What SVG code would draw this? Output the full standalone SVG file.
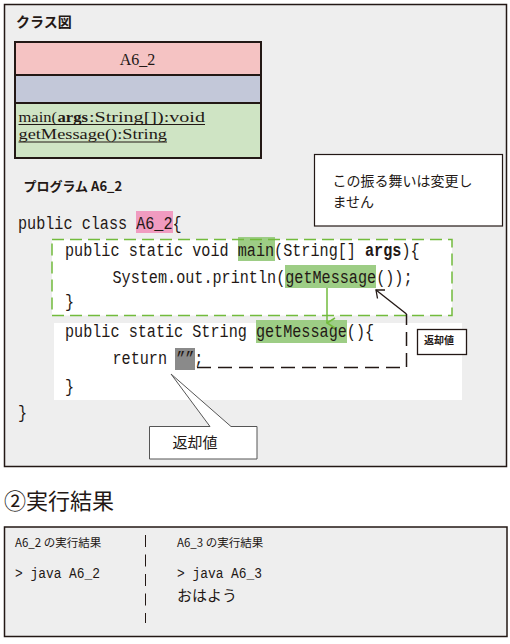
<svg xmlns="http://www.w3.org/2000/svg" width="510" height="644" viewBox="0 0 510 644">
<style>
.jp{font-family:"Noto Sans CJK JP","Noto Sans",sans-serif;fill:#231815}
.code{font-family:"Liberation Mono","DejaVu Sans Mono",monospace;font-size:18px;fill:#231815}
.code15{font-family:"Liberation Mono","DejaVu Sans Mono",monospace;font-size:15px;fill:#231815}
.serif{font-family:"Liberation Serif",serif;fill:#231815}
.frame{fill:#eeeeee;stroke:#231815;stroke-width:1.5}
.gdash{fill:none;stroke:#72bb3c;stroke-width:1.5;stroke-dasharray:12 6}
.kdash{fill:none;stroke:#231815;stroke-width:1.5;stroke-dasharray:14 7}
.hlg{fill:#9dcd85}
</style>
<defs>
<marker id="gv" viewBox="0 0 12 10" refX="6" refY="9" markerWidth="12" markerHeight="10" markerUnits="userSpaceOnUse" orient="auto-start-reverse">
<path d="M1,1 L6,9 L11,1" fill="none" stroke="#72bb3c" stroke-width="1.5"/>
</marker>
</defs>

<g id="frame-top">
<rect class="frame" x="4.5" y="4.5" width="502" height="462"/>
<text class="jp" x="16" y="27" font-size="14" font-weight="bold">クラス図</text>
</g>

<g id="class-box">
<rect x="15" y="42" width="246" height="33" fill="#f5c3c3"/>
<rect x="15" y="75" width="246" height="28" fill="#c3c8d9"/>
<rect x="15" y="103" width="246" height="55" fill="#cfe4c4"/>
<rect x="15" y="42" width="246" height="116" fill="none" stroke="#231815" stroke-width="2"/>
<line x1="15" y1="75" x2="261" y2="75" stroke="#231815" stroke-width="2"/>
<line x1="15" y1="103" x2="261" y2="103" stroke="#231815" stroke-width="2"/>
<text class="serif" x="137.5" y="65" font-size="16" text-anchor="middle">A6_2</text>
<text class="serif" x="18.5" y="121.5" font-size="14" textLength="38.5" lengthAdjust="spacingAndGlyphs">main(</text>
<text class="serif" x="57.5" y="121.5" font-size="14" font-weight="bold" textLength="30.5" lengthAdjust="spacingAndGlyphs">args</text>
<text class="serif" x="89" y="121.5" font-size="14" textLength="116" lengthAdjust="spacingAndGlyphs">:String[]):void</text>
<text class="serif" x="18.5" y="139" font-size="14" textLength="148.5" lengthAdjust="spacingAndGlyphs">getMessage():String</text>
<line x1="18.5" y1="124.5" x2="205" y2="124.5" stroke="#231815" stroke-width="1"/>
<line x1="18.5" y1="142" x2="167" y2="142" stroke="#231815" stroke-width="1"/>
</g>

<g id="note-box">
<rect x="314.5" y="154.5" width="188" height="71.5" fill="#ffffff" stroke="#231815" stroke-width="1.2"/>
<text class="jp" x="332.5" y="186" font-size="14">この振る舞いは変更し</text>
<text class="jp" x="332.5" y="207" font-size="14">ません</text>
</g>

<g id="program">
<text class="jp" x="23.5" y="191" font-size="13" font-weight="bold">プログラム A6_2</text>
<rect x="136" y="211" width="37" height="22" fill="#f09bc0"/>
<text class="code" transform="translate(18,229) scale(0.8426,1)">public class A6_2{</text>
</g>

<g id="main-block">
<rect x="52" y="239.5" width="400" height="76" fill="#ffffff"/>
<rect class="hlg" x="238" y="237" width="37" height="24"/>
<rect class="hlg" x="285" y="265" width="91" height="23"/>
<rect class="gdash" x="52" y="239.5" width="400" height="76"/>
<text class="code" transform="translate(65,256) scale(0.8426,1)">public static void main(String[] <tspan font-weight="bold">args</tspan>){</text>
<text class="code" transform="translate(112.5,283) scale(0.8426,1)">System.out.println(getMessage());</text>
<text class="code" transform="translate(65,307) scale(0.8426,1)">}</text>
</g>

<g id="getmessage-block">
<rect x="54" y="323" width="408" height="77" fill="#ffffff"/>
<rect class="hlg" x="256" y="320" width="91" height="23"/>
<rect x="175" y="348" width="20" height="22" fill="#8a8a8a"/>
<text class="code" transform="translate(65,337) scale(0.8426,1)">public static String getMessage(){</text>
<text class="code" transform="translate(112.5,364) scale(0.8426,1)">return ””;</text>
<text class="code" transform="translate(65,392) scale(0.8426,1)">}</text>
<text class="code" transform="translate(18,418) scale(0.8426,1)">}</text>
</g>

<g id="connectors">
<line x1="327" y1="288" x2="327" y2="323" stroke="#72bb3c" stroke-width="1.5" marker-end="url(#gv)"/>
<path class="kdash" d="M197,367.5 H406.5 V314"/>
<path d="M406.5,314 L376,290" fill="none" stroke="#231815" stroke-width="1.3"/>
<path d="M385,290 H376 L377.5,298.5" fill="none" stroke="#231815" stroke-width="1.3"/>
</g>

<g id="label-return-small">
<rect x="417.5" y="329.5" width="49" height="25" fill="#ffffff" stroke="#231815" stroke-width="1.3"/>
<text class="jp" x="424" y="344" font-size="10" font-weight="bold">返却値</text>
</g>

<g id="callout-return">
<path d="M149.5,426.5 H210 L171,374 L231,426.5 H257 V459 H149.5 Z" fill="#ffffff" stroke="#555555" stroke-width="1"/>
<text class="jp" x="195" y="448" font-size="15" text-anchor="middle">返却値</text>
</g>

<g id="result-title">
<text class="jp" x="4" y="509" font-size="22">②実行結果</text>
</g>

<g id="result-box">
<rect class="frame" x="4.5" y="527" width="502.5" height="109.5"/>
<text class="jp" x="15" y="547" font-size="11.5">A6_2 の実行結果</text>
<text class="code15" transform="translate(15,578) scale(0.86,1)">&gt; java A6_2</text>
<line x1="145.5" y1="535" x2="145.5" y2="623" stroke="#231815" stroke-width="1" stroke-dasharray="12 7.5"/>
<text class="jp" x="177" y="547" font-size="11.5">A6_3 の実行結果</text>
<text class="code15" transform="translate(177,578) scale(0.86,1)">&gt; java A6_3</text>
<text class="jp" x="177" y="601" font-size="15">おはよう</text>
</g>
</svg>
